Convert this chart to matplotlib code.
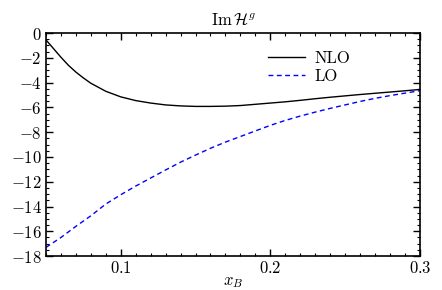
import matplotlib
matplotlib.use("Agg")
import matplotlib.pyplot as plt
from matplotlib.ticker import MultipleLocator, FuncFormatter

plt.rcParams["font.family"] = "serif"
plt.rcParams["font.serif"] = ["cmr10", "DejaVu Serif"]
plt.rcParams["mathtext.fontset"] = "cm"
plt.rcParams["axes.formatter.use_mathtext"] = True

# values
x_nlo = [0.05, 0.055, 0.06, 0.065, 0.07, 0.075, 0.08, 0.09, 0.10, 0.11, 0.12,
         0.13, 0.14, 0.15, 0.16, 0.17, 0.18, 0.19, 0.20, 0.21, 0.22, 0.23,
         0.24, 0.25, 0.26, 0.27, 0.28, 0.29, 0.30]
y_nlo = [-0.55, -1.25, -1.95, -2.6, -3.15, -3.62, -4.05, -4.7, -5.15, -5.45,
         -5.65, -5.8, -5.88, -5.92, -5.92, -5.9, -5.85, -5.75, -5.65, -5.55,
         -5.43, -5.3, -5.18, -5.07, -4.96, -4.86, -4.76, -4.66, -4.55]

x_lo = [0.05, 0.06, 0.07, 0.08, 0.09, 0.10, 0.11, 0.12, 0.13, 0.14, 0.15,
        0.16, 0.17, 0.18, 0.19, 0.20, 0.21, 0.22, 0.23, 0.24, 0.25, 0.26,
        0.27, 0.28, 0.29, 0.30]
y_lo = [-17.3, -16.5, -15.6, -14.75, -13.8, -13.05, -12.35, -11.7, -11.05,
        -10.42, -9.85, -9.3, -8.8, -8.35, -7.9, -7.45, -7.05, -6.7, -6.38,
        -6.08, -5.8, -5.52, -5.27, -5.05, -4.85, -4.65]

fig = plt.figure(figsize=(4.42, 2.90), dpi=100)
ax = fig.add_axes([0.104, 0.117, 0.846, 0.769])

ax.plot(x_nlo, y_nlo, color="black", lw=1.0, label="NLO")
ax.plot(x_lo, y_lo, color="blue", lw=1.0, ls=(0, (3.5, 2.5)), label="LO")

ax.set_xlim(0.05, 0.3)
ax.set_ylim(-18, 0)
ax.xaxis.set_major_locator(MultipleLocator(0.1))
ax.xaxis.set_minor_locator(MultipleLocator(0.01))
ax.yaxis.set_major_locator(MultipleLocator(2))
ax.yaxis.set_minor_locator(MultipleLocator(0.5))
ax.xaxis.set_major_formatter(FuncFormatter(lambda v, p: f"${v:.1f}$"))
ax.yaxis.set_major_formatter(FuncFormatter(
    lambda v, p: "$0$" if round(v) == 0 else f"$-{abs(int(round(v)))}$"))
ax.tick_params(which="both", direction="in", top=True, right=True, labelsize=12)
ax.tick_params(which="major", length=5, width=1.0, pad=3)
ax.tick_params(which="minor", length=2.5, width=0.8)
for s in ax.spines.values():
    s.set_linewidth(1.2)

ax.set_xlabel(r"$x_B$", fontsize=12, labelpad=-1)
ax.set_title(r"$\mathrm{Im}\,\mathcal{H}^g$", fontsize=12, pad=6)

ax.legend(loc="upper right", bbox_to_anchor=(0.854, 0.99), frameon=False,
          fontsize=12, handlelength=2.2, handletextpad=0.6, labelspacing=0.2)

fig.savefig("out.png", dpi=100)
